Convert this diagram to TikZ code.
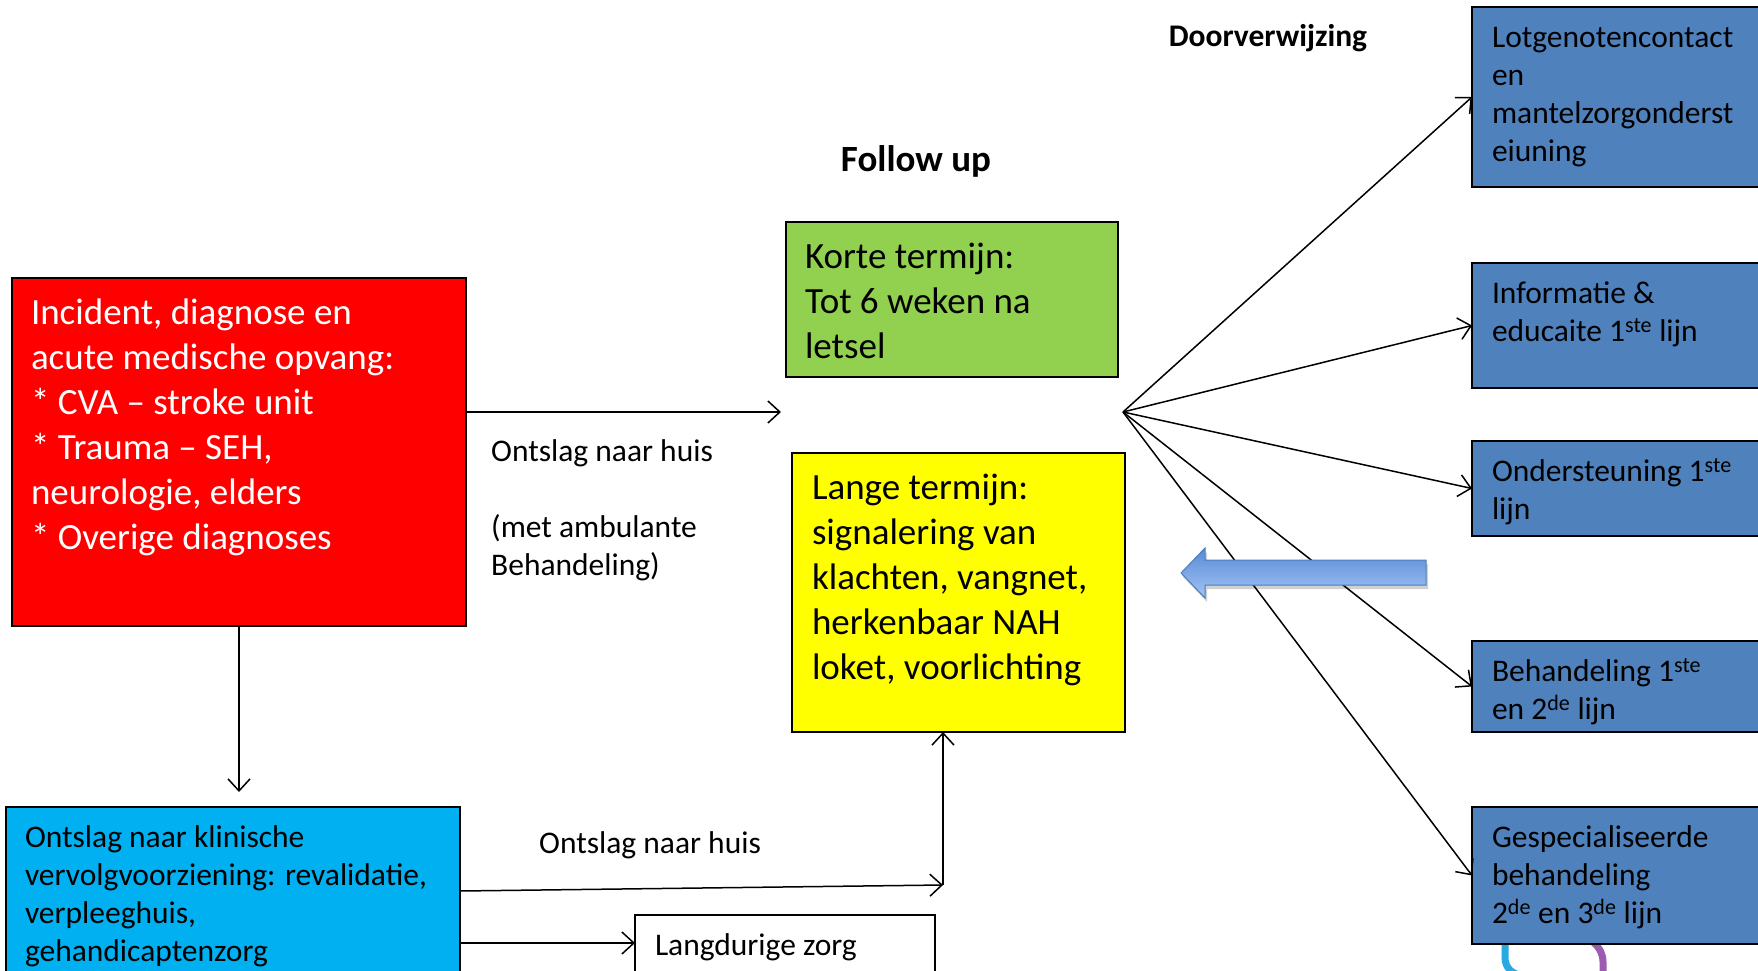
\documentclass[tikz,border=0pt]{standalone}
\usepackage{fontspec}
\setmainfont{Carlito}
\usetikzlibrary{arrows.meta}
\newcommand{\fbig}{\fontsize{37}{45}\selectfont}
\newcommand{\fsml}{\fontsize{31.5}{38}\selectfont}
\newcommand{\bxt}[3]{\begin{minipage}[t][#2pt][t]{#1pt}\raggedright\strut #3\end{minipage}}
\newcommand{\lbt}[2]{\begin{minipage}[t]{#1pt}\raggedright\strut #2\end{minipage}}
\definecolor{cred}{HTML}{FF0000}
\definecolor{cgreen}{HTML}{92D050}
\definecolor{cyellow}{HTML}{FFFF00}
\definecolor{cblue}{HTML}{4F81BD}
\definecolor{ccyan}{HTML}{00B0F0}
\definecolor{arrtop}{HTML}{5A8AD6}
\definecolor{arrbot}{HTML}{A2C4F4}
\definecolor{arredge}{HTML}{4A7EBB}
\definecolor{fragcyan}{HTML}{29A9E1}
\definecolor{fragpurple}{HTML}{9C5AB0}
\tikzset{
  bx/.style={draw=black, line width=1.3pt, anchor=north west, inner xsep=19pt, inner ysep=14.5pt, outer sep=0pt},
  bbx/.style={bx, fill=cblue, font=\fsml, inner xsep=20pt, inner ysep=14pt},
  arr/.style={line width=1.5pt, -{Straight Barb[length=12pt,width=22pt]}},
  lbl/.style={anchor=base west, inner sep=0pt, font=\fsml},
}
\begin{document}
\begin{tikzpicture}[x=1pt,y=-1pt]
\useasboundingbox (0,0) rectangle (1758,971);
\clip (0,0) rectangle (1758,971);
\fill[white] (0,0) rectangle (1758,971);

% titles
\node[font=\fbig\bfseries, anchor=base] (fu) at (916,171) {Follow up};
\node[font=\fsml\bfseries, anchor=base] (dv) at (1268,47) {Doorverwijzing};

% left boxes
\node[bx, fill=cred, font=\fbig, text=white] (red) at (12,278)
  {\bxt{416}{319}{Incident, diagnose en\\acute medische opvang:\\{}* CVA -- stroke unit\\{}* Trauma -- SEH,\\neurologie, elders\\{}* Overige diagnoses}};
\node[bx, fill=ccyan, font=\fsml, inner ysep=14pt] (cyan) at (6,807)
  {\bxt{416}{172}{Ontslag naar klinische\\vervolgvoorziening: revalidatie,\\verpleeghuis,\\gehandicaptenzorg}};
\node[bx, fill=white, font=\fsml, inner xsep=20pt, inner ysep=13.4pt] (lang) at (635,915)
  {\bxt{260}{80}{Langdurige zorg}};

% middle boxes
\node[bx, fill=cgreen, font=\fbig] (green) at (786,222)
  {\bxt{294}{126}{Korte termijn:\\Tot 6 weken na\\letsel}};
\node[bx, fill=cyellow, font=\fbig, inner xsep=20pt] (yellow) at (792,453)
  {\bxt{293}{250}{Lange termijn:\\signalering van\\klachten, vangnet,\\herkenbaar NAH\\loket, voorlichting}};

% labels
\node[lbl] (l1) at (491,461) {\lbt{320}{Ontslag naar huis\\\mbox{}\\(met ambulante\\Behandeling)}};
\node[lbl] (l2) at (539,853) {\lbt{320}{Ontslag naar huis}};

% fragments under the last blue box
\draw[fragcyan, line width=7pt] (1505,930) -- (1505,958) to[out=-90,in=180] (1522,975);
\draw[fragpurple, line width=7pt] (1572,935) to[out=0,in=90] (1603,962) -- (1603,990);

% right boxes
\node[bbx] (b1) at (1472,7)
  {\bxt{278}{152}{Lotgenotencontact\\en\\mantelzorgonderst\\eiuning}};
\node[bbx] (b2) at (1472,263)
  {\bxt{278}{97}{Informatie \&\\educaite 1\textsuperscript{ste} lijn}};
\node[bbx] (b3) at (1472,441)
  {\bxt{278}{67}{Ondersteuning 1\textsuperscript{ste}\\lijn}};
\node[bbx] (b4) at (1472,641)
  {\bxt{278}{63}{Behandeling 1\textsuperscript{ste}\\en 2\textsuperscript{de} lijn}};
\node[bbx] (b5) at (1472,807)
  {\bxt{278}{109}{Gespecialiseerde\\behandeling\\2\textsuperscript{de} en 3\textsuperscript{de} lijn}};

% connectors
\coordinate (rend) at (781,412);
\coordinate (fan) at (1123,412);
\coordinate (j) at (943,885);
\draw[arr] (red.east |- rend) -- (rend);
\draw[arr, shorten >=15pt] (red.south) -- (red.south |- cyan.north);
\draw[arr] ([yshift=-84pt]cyan.north east) -- (j);
\draw[arr] (j) -- (j |- yellow.south);
\draw[arr] ([yshift=-136pt]cyan.north east) -- ([yshift=-28pt]lang.north west);
\foreach \b in {b1,b2,b3,b4,b5}{
  \draw[arr] (fan) -- (\b.west);
}

% big blue arrow on top, with a faint shadow
\fill[black, opacity=0.18]
  (1183,577) -- (1207,552) -- (1207,564) -- (1428,564) -- (1428,589)
  -- (1207,589) -- (1207,602) -- cycle;
\path[draw=arredge, line width=1pt, top color=arrtop, bottom color=arrbot]
  (1181,573) -- (1205,548) -- (1205,560) -- (1426,560) -- (1426,585)
  -- (1205,585) -- (1205,598) -- cycle;
\end{tikzpicture}
\end{document}
